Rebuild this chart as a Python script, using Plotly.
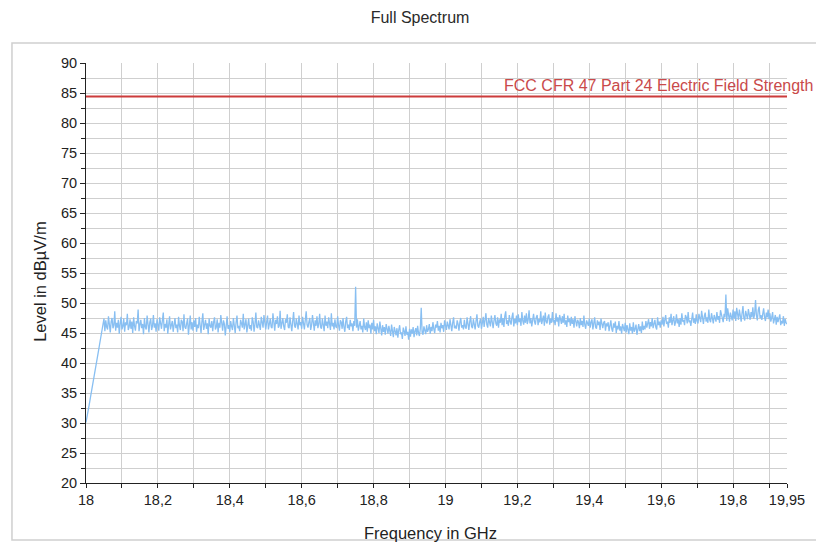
import plotly.graph_objects as go

# ---------------- data ----------------
freq_start_ghz = 18.0
freq_step_ghz = 0.0025

level_dbuv = [
    # 18.000 - 18.050 (rise)
    30.1, 30.8, 31.7, 32.5, 33.4, 34.3, 35.1, 36.0, 36.9, 37.7, 38.6, 39.5, 40.3, 41.2, 42.1, 43.0, 43.8, 44.7, 45.5, 46.6, 47.4,
    # 18.05 - 18.50
    45.3, 47.1, 46.0, 45.6, 47.8, 46.4, 45.1, 46.9, 47.5, 45.8, 46.3, 48.6, 45.4, 46.7, 45.9, 47.2, 44.9, 46.5, 47.7, 45.6,
    46.1, 47.4, 45.2, 46.8, 46.3, 48.2, 45.5, 46.0, 47.3, 45.7, 46.9, 45.0, 47.6, 46.2, 45.4, 47.0, 46.6, 48.9, 45.3, 46.4,
    47.2, 45.8, 46.5, 44.8, 47.5, 46.0, 45.6, 47.9, 46.3, 45.1, 46.8, 47.4, 45.5, 46.2, 48.0, 45.9, 46.6, 45.2, 47.3, 46.1,
    45.4, 47.6, 46.0, 45.7, 47.1, 48.4, 45.3, 46.5, 45.9, 47.3, 44.9, 46.7, 47.8, 45.6, 46.1, 47.0, 45.2, 46.8, 47.5, 45.8,
    46.4, 45.1, 47.7, 46.2, 45.5, 47.2, 46.9, 45.3, 48.1, 46.0, 45.7, 46.6, 47.4, 44.7, 46.3, 47.9, 45.6, 46.8, 45.4, 47.1,
    46.0, 47.5, 45.2, 46.4, 45.8, 47.7, 46.3, 45.0, 46.9, 48.3, 45.5, 46.1, 47.2, 45.7, 46.6, 44.8, 47.4, 46.2, 45.9, 47.0,
    45.3, 46.8, 47.6, 45.6, 46.0, 47.3, 45.1, 46.7, 45.9, 48.0, 46.2, 45.4, 47.1, 46.5, 44.6, 46.9, 47.8, 45.7, 46.3, 45.2,
    47.0, 46.1, 45.5, 47.5, 46.4, 45.0, 46.8, 47.9, 45.8, 46.2, 45.3, 47.2, 46.6, 45.9, 48.2, 45.6, 46.4, 47.3, 45.1, 46.7,
    47.4, 45.7, 46.3, 45.4, 47.6, 46.9, 45.2, 46.5, 48.4, 46.0, 45.8, 47.1, 46.2, 45.5, 47.7, 46.4, 45.9, 48.0, 46.1, 45.6,
    # 18.50 - 18.75
    46.8, 47.9, 45.6, 46.3, 47.4, 46.0, 45.8, 48.3, 46.6, 45.4, 47.2, 46.5, 47.8, 45.9, 46.2, 48.7, 45.7, 46.9, 47.5, 46.1,
    45.5, 47.3, 46.7, 48.1, 46.0, 45.8, 47.6, 46.4, 45.3, 47.0, 48.5, 46.2, 45.9, 47.4, 46.6, 45.6, 47.9, 46.3, 46.8, 45.7,
    47.7, 46.1, 45.6, 47.2, 48.6, 46.4, 45.9, 46.8, 47.5, 45.5, 46.3, 48.0, 46.7, 45.4, 47.1, 46.2, 47.8, 45.8, 46.5, 48.2,
    46.0, 45.7, 47.4, 46.6, 45.3, 47.9, 46.2, 46.9, 45.8, 47.6, 46.4, 45.5, 48.3, 46.1, 46.7, 45.6, 47.3, 46.0, 45.9, 47.8,
    46.3, 45.4, 47.1, 46.8, 45.7, 47.5, 46.0, 45.2, 46.9, 47.7, 45.8, 46.4, 45.5, 47.2, 46.1, 46.6, 45.3, 47.0, 46.2, 52.7,
    # 18.75 - 19.00
    45.9, 47.3, 45.4, 46.5, 47.0, 45.6, 46.2, 45.1, 47.4, 46.0, 45.5, 46.8, 45.2, 47.1, 45.8, 46.4, 44.9, 46.7, 45.6, 47.2,
    45.3, 46.1, 44.8, 46.6, 45.5, 45.0, 46.9, 45.7, 44.6, 46.3, 45.2, 46.0, 44.7, 46.5, 45.4, 44.9, 46.2, 45.6, 44.5, 46.4,
    45.0, 44.3, 46.0, 45.4, 44.6, 45.8, 44.2, 45.5, 46.3, 44.8, 45.1, 44.0, 45.9, 45.3, 44.5, 46.1, 44.7, 45.2, 43.9, 45.7,
    44.4, 45.6, 44.9, 46.0, 44.3, 45.3, 45.8, 44.6, 46.2, 45.0, 44.5, 45.7, 49.2, 45.1, 44.7, 46.1, 45.4, 44.8, 46.3, 45.2,
    45.6, 46.5, 44.9, 46.0, 45.3, 46.8, 45.7, 45.0, 46.4, 45.9, 47.0, 45.4, 46.2, 45.1, 46.7, 45.8, 46.3, 45.2, 47.1, 45.9,
    # 19.00 - 19.25
    45.5, 46.9, 46.1, 45.6, 47.3, 46.4, 45.3, 46.7, 47.6, 45.8, 46.2, 45.7, 47.1, 46.5, 45.4, 46.8, 47.5, 45.9, 46.3, 45.6,
    47.2, 46.0, 45.7, 47.6, 46.4, 45.5, 46.9, 47.8, 46.1, 45.8, 47.3, 46.6, 45.6, 47.0, 48.1, 46.2, 45.9, 46.8, 47.4, 45.7,
    46.5, 47.7, 46.0, 47.2, 48.3, 46.4, 45.9, 47.5, 46.8, 46.1, 47.9, 46.3, 45.8, 47.1, 48.0, 46.6, 46.2, 47.6, 45.9, 47.3,
    46.7, 48.2, 46.3, 47.5, 46.0, 47.8, 48.6, 46.5, 47.1, 46.2, 48.0, 46.9, 46.4, 47.7, 48.4, 46.1, 47.3, 46.6, 47.9, 46.3,
    48.1, 46.8, 47.4, 46.2, 48.5, 47.0, 46.4, 47.9, 46.7, 48.3, 46.5, 47.2, 48.8, 46.6, 47.5, 46.1, 47.8, 48.2, 46.9, 46.4,
    # 19.25 - 19.50
    47.6, 48.0, 46.3, 47.3, 46.8, 48.6, 46.5, 47.1, 47.9, 46.2, 48.4, 46.9, 46.6, 47.7, 48.1, 46.4, 47.4, 46.7, 48.5, 46.8,
    47.2, 46.3, 48.3, 46.9, 47.6, 46.1, 48.0, 47.3, 46.5, 47.8, 46.7, 48.2, 46.4, 47.1, 46.0, 47.9, 46.8, 47.4, 46.2, 47.7,
    46.5, 47.3, 45.9, 47.8, 46.6, 46.1, 47.2, 46.8, 45.8, 47.5, 46.3, 47.0, 46.0, 47.9, 46.4, 45.7, 47.1, 46.7, 46.2, 47.4,
    45.9, 46.8, 47.3, 45.6, 46.5, 47.6, 46.0, 45.7, 47.1, 46.3, 46.9, 45.5, 47.4, 46.2, 45.8, 46.7, 47.0, 45.4, 46.6, 46.1,
    46.8, 45.3, 46.4, 47.1, 45.7, 45.2, 46.6, 45.9, 46.9, 45.0, 46.2, 45.6, 47.0, 45.4, 46.1, 44.9, 46.5, 45.8, 45.3, 46.7,
    # 19.50 - 19.75
    45.1, 46.3, 45.6, 44.8, 46.6, 45.4, 46.0, 44.9, 46.8, 45.2, 45.7, 46.4, 44.7, 45.9, 46.5, 45.3, 46.1, 45.0, 46.9, 45.5,
    46.2, 45.6, 47.0, 45.9, 46.5, 47.3, 45.7, 46.8, 46.1, 47.5, 45.8, 46.4, 47.2, 46.0, 45.6, 47.6, 46.3, 46.9, 45.9, 47.1,
    46.4, 47.7, 46.1, 47.2, 48.0, 46.5, 46.9, 45.9, 47.6, 46.7, 48.2, 46.3, 47.0, 47.8, 46.2, 46.8, 48.1, 46.6, 47.3, 46.0,
    47.5, 46.4, 48.3, 46.9, 47.2, 46.3, 48.0, 47.6, 46.6, 48.5, 46.8, 47.1, 46.2, 47.9, 48.4, 46.7, 47.4, 46.5, 48.1, 47.0,
    46.6, 48.2, 47.4, 46.8, 48.7, 47.1, 46.5, 47.8, 48.4, 46.9, 47.6, 46.7, 48.9, 47.2, 46.8, 48.3, 47.5, 46.6, 48.0, 47.3,
    # 19.75 - 19.95
    46.9, 48.5, 47.2, 47.8, 46.7, 48.8, 48.0, 47.4, 46.8, 48.2, 47.6, 51.4, 47.0, 49.1, 47.3, 46.9, 48.4, 47.8, 47.1, 48.9,
    47.4, 48.6, 47.0, 49.2, 47.8, 47.2, 48.9, 47.6, 46.9, 48.3, 49.5, 47.5, 47.1, 48.7, 47.9, 47.3, 49.0, 48.1, 47.2, 48.5,
    47.6, 49.3, 47.4, 48.2, 50.5, 47.9, 47.1, 48.8, 49.4, 47.5, 48.0, 47.2, 48.6, 49.1, 47.7, 47.0, 48.4, 47.6, 48.9, 47.3,
    48.3, 46.9, 47.6, 48.5, 46.6, 47.2, 48.0, 46.4, 47.7, 46.8, 47.4, 48.1, 46.3, 47.0, 46.6, 47.8, 46.2, 47.3, 46.7, 46.5,
]
frequency_ghz = [round(freq_start_ghz + i * freq_step_ghz, 4) for i in range(len(level_dbuv))]

limit_name = "FCC CFR 47 Part 24 Electric Field Strength"
limit_level = 84.4
limit_freq = [18.0, 19.95]

x_tick_vals = [18.0, 18.2, 18.4, 18.6, 18.8, 19.0, 19.2, 19.4, 19.6, 19.8, 19.95]
x_tick_text = ["18", "18,2", "18,4", "18,6", "18,8", "19", "19,2", "19,4", "19,6", "19,8", "19,95"]

FONT = "Liberation Sans, Arial, sans-serif"
GRID = "#cfcfcf"
INK = "#222222"

fig = go.Figure()
fig.add_trace(go.Scatter(
    x=frequency_ghz, y=level_dbuv, mode="lines",
    line=dict(color="#88bff2", width=1.3), showlegend=False, hoverinfo="skip"))
fig.add_trace(go.Scatter(
    x=limit_freq, y=[limit_level, limit_level], mode="lines",
    line=dict(color="#cc3b3b", width=2), showlegend=False, hoverinfo="skip"))

fig.update_layout(
    width=816, height=544,
    margin=dict(l=86, r=29, t=63, b=61, autoexpand=False),
    paper_bgcolor="white", plot_bgcolor="white",
    font=dict(family=FONT, color=INK, size=13),
    title=dict(text="Full Spectrum", xref="paper", x=0.4765, xanchor="center",
               yref="container", y=0.968, yanchor="middle",
               font=dict(family=FONT, size=16, color="#2a2a2a")),
    xaxis=dict(
        range=[18.0, 19.95], tickmode="array", tickvals=x_tick_vals, ticktext=x_tick_text,
        automargin=False,
        showline=True, linecolor=INK, linewidth=1,
        ticks="outside", ticklen=4, tickcolor=INK,
        showgrid=True, gridcolor=GRID, gridwidth=1, zeroline=False,
        tickfont=dict(size=14.5, color=INK),
        minor=dict(tick0=18.0, dtick=0.1, showgrid=True, gridcolor=GRID,
                   ticks="outside", ticklen=4, tickcolor=INK),
    ),
    yaxis=dict(
        range=[20, 90], dtick=5, tick0=20,
        automargin=False,
        showline=True, linecolor=INK, linewidth=1,
        ticks="outside", ticklen=5, tickcolor=INK,
        showgrid=True, gridcolor=GRID, gridwidth=1, zeroline=False,
        tickfont=dict(size=14.5, color=INK),
        minor=dict(dtick=2.5, showgrid=True, gridcolor=GRID,
                   ticks="outside", ticklen=4, tickcolor=INK),
    ),
    shapes=[dict(type="rect", xref="paper", yref="paper",
                 x0=-0.1056, x1=1.08, y0=-0.136, y1=1.0476,
                 line=dict(color="#cfcfcf", width=1.5), fillcolor="rgba(0,0,0,0)", layer="below")],
    annotations=[
        dict(text=limit_name, xref="paper", yref="y", x=0.5934, y=limit_level,
             xanchor="left", yanchor="bottom", yshift=1, showarrow=False,
             font=dict(family=FONT, size=16, color="#c94a4a")),
        dict(text="Frequency in GHz", xref="paper", yref="paper", x=0.491, y=-0.119,
             xanchor="center", yanchor="middle", showarrow=False,
             font=dict(family=FONT, size=16.5, color=INK)),
        dict(text="Level in dBµV/m", xref="paper", yref="paper", x=-0.0656, y=0.479,
             xanchor="center", yanchor="middle", textangle=-90, showarrow=False,
             font=dict(family=FONT, size=16.5, color=INK)),
    ],
)

fig.write_html("out.html", config={"displayModeBar": False},
               post_script="document.body.style.margin='0';document.body.style.overflow='hidden';")
